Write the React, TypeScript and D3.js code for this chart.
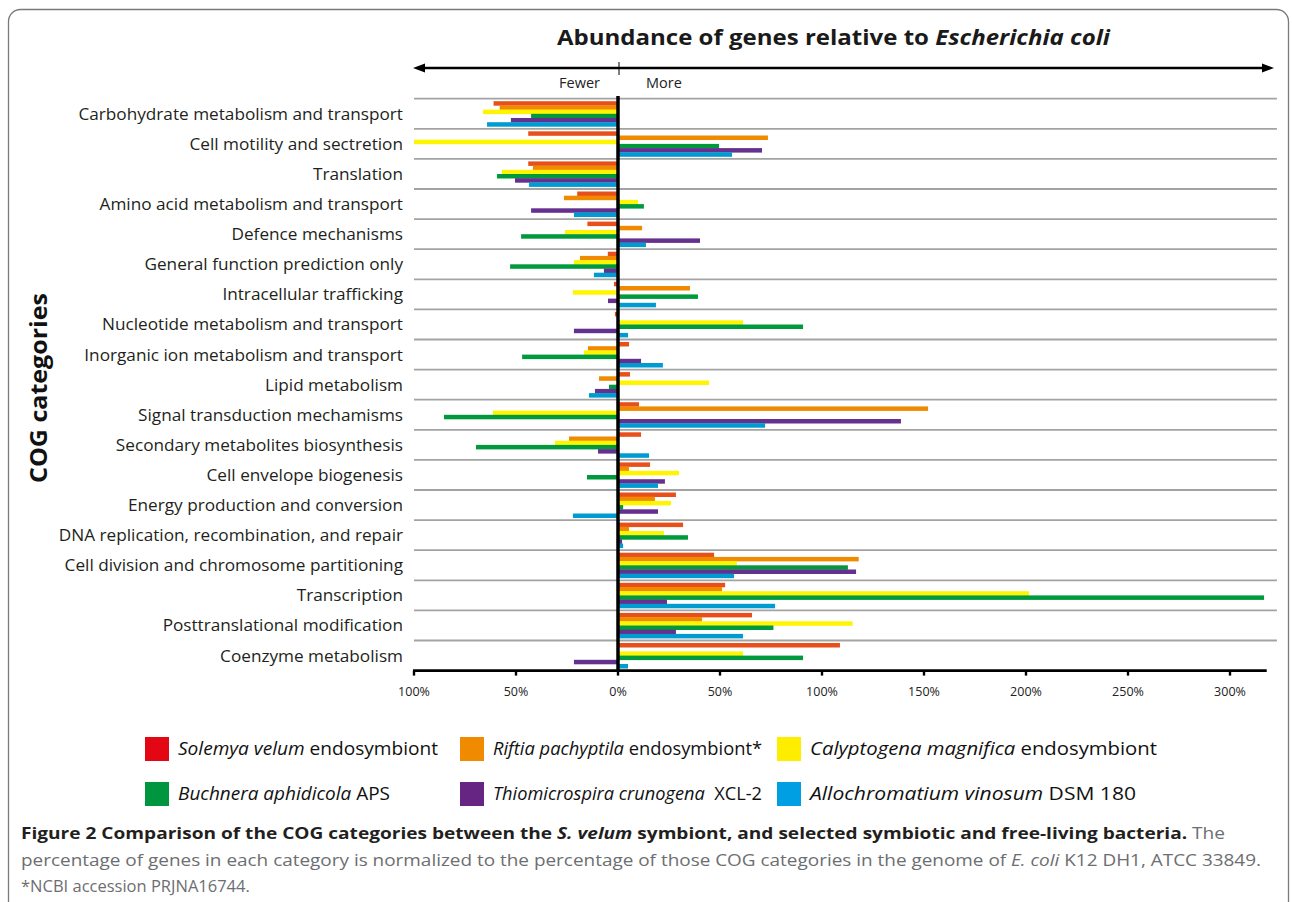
import React from "react";
import * as d3 from "d3";

const categories = [
  "Carbohydrate metabolism and transport",
  "Cell motility and sectretion",
  "Translation",
  "Amino acid metabolism and transport",
  "Defence mechanisms",
  "General function prediction only",
  "Intracellular trafficking",
  "Nucleotide metabolism and transport",
  "Inorganic ion metabolism and transport",
  "Lipid metabolism",
  "Signal transduction mechamisms",
  "Secondary metabolites biosynthesis",
  "Cell envelope biogenesis",
  "Energy production and conversion",
  "DNA replication, recombination, and repair",
  "Cell division and chromosome partitioning",
  "Transcription",
  "Posttranslational modification",
  "Coenzyme metabolism",
];

const solemya = [-61, -44, -44, -20, -15, -5, -2, -1.5, 5.4, 5.9, 10.3, 11.3, 15.7, 28.4, 31.9, 47.1, 52.5, 65.7, 108.8];
const riftia = [-58, 73.5, -41.7, -26.5, 11.8, -18.6, 35.3, 0, -14.7, -9.3, 152, -24, 5.4, 18.1, 5.4, 118, 51, 41.2, 0];
const calyptogena = [-66.2, -100, -56.9, 9.8, -26, -21.6, -22.1, 61.3, -16.7, 44.6, -61.3, -30.9, 29.9, 26, 22.5, 58.3, 201.5, 115, 61.3];
const buchnera = [-42.6, 49.5, -59.3, 12.7, -47.5, -52.9, 39.2, 90.7, -47, -4.4, -85.3, -69.6, -15.2, 2.5, 34.3, 112.7, 316.7, 76.2, 90.7];
const thiomicrospira = [-52.5, 70.6, -50.5, -42.6, 40.2, -6.9, -4.9, -21.6, 11.3, -11.3, 138.7, -9.8, 23, 19.6, 2, 116.7, 24, 28.4, -21.6];
const allochromatium = [-64.2, 55.9, -43.6, -21.6, 13.7, -11.8, 18.6, 4.9, 22, -14.2, 72.1, 15.2, 19.6, -22.1, 2.5, 56.9, 77, 61.3, 4.9];

const seriesValues = [solemya, riftia, calyptogena, buchnera, thiomicrospira, allochromatium];
const legendItalic = [
  "Solemya velum",
  "Riftia pachyptila",
  "Calyptogena magnifica",
  "Buchnera aphidicola",
  "Thiomicrospira crunogena",
  "Allochromatium vinosum",
];
const legendRest = [" endosymbiont", " endosymbiont*", " endosymbiont", " APS", "  XCL-2", " DSM 180"];
const barColors = ["#E8501B", "#F08A00", "#FFF500", "#009A3D", "#65318F", "#009BD0"];
const legendColors = ["#E30613", "#F08A00", "#FFED00", "#009640", "#662483", "#009FE3"];
const tickValues = [-100, -50, 0, 50, 100, 150, 200, 250, 300];

const FONT = "'Open Sans', sans-serif";

export default function App() {
  const x = d3.scaleLinear().domain([-100, 300]).range([414, 1230]);
  const y = d3.scaleBand<string>().domain(categories).range([98.7, 670.6]).padding(0);
  const inner = d3
    .scaleBand<number>()
    .domain(d3.range(seriesValues.length))
    .range([2.5, 27.7])
    .padding(0);
  const x0 = x(0);
  const axisY = 670.6;
  const sepEnd = x(323);

  const legendPos = [
    [145, 737],
    [460, 737],
    [777, 737],
    [145, 782],
    [460, 782],
    [777, 782],
  ];
  const legendTextWidth = [260, 269, 347, 212, 269, 326];

  return (
    <svg
      width={1292}
      height={902}
      style={{ position: "absolute", left: 0, top: 0, background: "#fff" }}
      fontFamily={FONT}
    >
      <rect x={8.5} y={9.5} width={1280} height={1000} rx={12} fill="none" stroke="#7a7a7a" strokeWidth={1.3} />

      {/* Title */}
      <text x={557} y={45} fontSize={22} fontWeight={700} fill="#1a1a1a" textLength={553} lengthAdjust="spacingAndGlyphs">
        Abundance of genes relative to <tspan fontStyle="italic">Escherichia coli</tspan>
      </text>

      {/* Double arrow */}
      <line x1={420} x2={1267} y1={68} y2={68} stroke="#000" strokeWidth={2.6} />
      <path d={`M413,68 L425,63.5 L425,72.5 Z`} fill="#000" />
      <path d={`M1274,68 L1262,63.5 L1262,72.5 Z`} fill="#000" />
      <line x1={x0 + 1} x2={x0 + 1} y1={62} y2={75} stroke="#000" strokeWidth={1} />
      <text x={600} y={88} fontSize={14.5} textAnchor="end" fill="#222">Fewer</text>
      <text x={646} y={88} fontSize={14.5} fill="#222">More</text>

      {/* Separators */}
      {categories.map((c) => (
        <line key={"s" + c} x1={414} x2={sepEnd} y1={y(c)!} y2={y(c)!} stroke="#a3a3a3" strokeWidth={1.8} />
      ))}

      {/* Bars */}
      {categories.map((c, i) => (
        <g key={"g" + c} transform={`translate(0,${y(c)})`}>
          {seriesValues.map((vals, j) => {
            const v = vals[i];
            if (v === 0) return null;
            const xa = x(Math.min(0, v));
            const xb = x(Math.max(0, v));
            return (
              <rect
                key={j}
                x={xa}
                y={inner(j)!}
                width={xb - xa}
                height={inner.bandwidth() + 0.3}
                fill={barColors[j]}
              />
            );
          })}
        </g>
      ))}

      {/* Category labels */}
      {categories.map((c) => (
        <text key={"l" + c} x={403} y={y(c)! + y.bandwidth() / 2} dy="0.35em" textAnchor="end" fontSize={17.2} fill="#231f20">
          {c}
        </text>
      ))}

      {/* Zero line */}
      <line x1={x0} x2={x0} y1={96} y2={axisY} stroke="#000" strokeWidth={3.5} />

      {/* X axis */}
      <line x1={413} x2={x(318)} y1={axisY} y2={axisY} stroke="#000" strokeWidth={2.6} />
      {tickValues.map((t) => (
        <g key={"t" + t}>
          <line x1={x(t)} x2={x(t)} y1={axisY} y2={axisY + 5} stroke="#000" strokeWidth={2.4} />
          <text x={x(t)} y={696} fontSize={12.5} textAnchor="middle" fill="#222">
            {Math.abs(t) + "%"}
          </text>
        </g>
      ))}

      {/* Y title */}
      <text
        transform={`translate(47,388) rotate(-90)`}
        textAnchor="middle"
        fontSize={24}
        fontWeight={700}
        fill="#111"
        textLength={190}
        lengthAdjust="spacingAndGlyphs"
      >
        COG categories
      </text>

      {/* Legend */}
      {legendItalic.map((it, k) => (
        <g key={"lg" + k} transform={`translate(${legendPos[k][0]},${legendPos[k][1]})`}>
          <rect x={0} y={0} width={24} height={24} fill={legendColors[k]} />
          <text
            x={33}
            y={12}
            dy="0.35em"
            fontSize={18.5}
            fill="#111"
            textLength={legendTextWidth[k]}
            lengthAdjust="spacingAndGlyphs"
          >
            <tspan fontStyle="italic">{it}</tspan>
            <tspan xmlSpace="preserve">{legendRest[k]}</tspan>
          </text>
        </g>
      ))}

      {/* Caption */}
      <text x={21} y={839} fontSize={16.5} fill="#6d6e71" textLength={1204} lengthAdjust="spacingAndGlyphs">
        <tspan fontWeight={700} fill="#231f20">Figure 2 Comparison of the COG categories between the </tspan>
        <tspan fontWeight={700} fontStyle="italic" fill="#231f20">S. velum</tspan>
        <tspan fontWeight={700} fill="#231f20"> symbiont, and selected symbiotic and free-living bacteria.</tspan>
        <tspan> The</tspan>
      </text>
      <text x={21} y={866} fontSize={16.5} fill="#6d6e71" textLength={1240} lengthAdjust="spacingAndGlyphs">
        percentage of genes in each category is normalized to the percentage of those COG categories in the genome of{" "}
        <tspan fontStyle="italic">E. coli</tspan> K12 DH1, ATCC 33849.
      </text>
      <text x={21} y={892} fontSize={16.5} fill="#6d6e71">
        *NCBI accession PRJNA16744.
      </text>
    </svg>
  );
}
